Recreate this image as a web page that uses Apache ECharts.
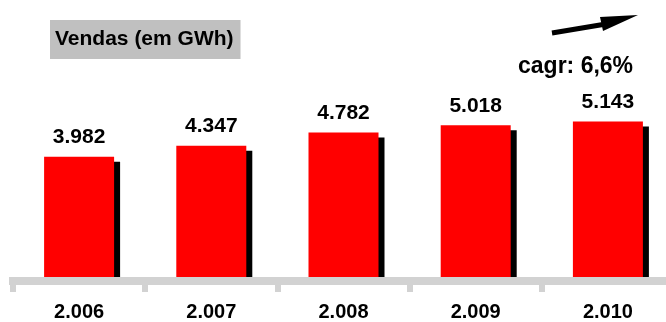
<!DOCTYPE html>
<html>
<head>
<meta charset="utf-8">
<script src="https://cdn.jsdelivr.net/npm/echarts@6/dist/echarts.min.js"></script>
<style>
  html, body { margin: 0; padding: 0; background: #fff; overflow: hidden; }
  #vendas { width: 674px; height: 322px; }
</style>
</head>
<body>
<div id="vendas"></div>
<script>
    // dados
    var anos = ['2.006', '2.007', '2.008', '2.009', '2.010'];
    var vendas = [3982, 4347, 4782, 5018, 5143];
    var rotulos = ['3.982', '4.347', '4.782', '5.018', '5.143'];

    var fonte = '"Liberation Sans", Arial, sans-serif';
    var chart = echarts.init(document.getElementById('vendas'));

    chart.setOption({
        animation: false,
        title: {
            text: 'Vendas (em GWh)',
            left: 50,
            top: 20,
            padding: [8, 7, 8, 5],
            backgroundColor: '#c0c0c0',
            textStyle: {
                fontFamily: fonte,
                fontSize: 21,
                fontWeight: 'bold',
                color: '#000',
                lineHeight: 23
            }
        },
        grid: {
            left: 13,
            right: 0,
            top: 5,
            bottom: 41
        },
        xAxis: {
            type: 'category',
            data: anos,
            z: 3,
            axisLine: {
                onZero: false,
                lineStyle: { color: '#d2d2d2', width: 8, cap: 'square' }
            },
            axisTick: {
                show: true,
                interval: 0,
                length: 11,
                lineStyle: { color: '#d2d2d2', width: 6 }
            },
            axisLabel: {
                margin: 21,
                fontFamily: fonte,
                fontSize: 20,
                fontWeight: 'bold',
                color: '#000'
            }
        },
        yAxis: {
            type: 'value',
            // base das barras fica um pouco acima da faixa do eixo
            min: -132,
            max: 9000,
            show: false,
            splitLine: { show: false }
        },
        series: [
            {
                name: 'Vendas',
                type: 'bar',
                barWidth: 70,
                data: vendas,
                itemStyle: {
                    color: '#ff0000',
                    shadowColor: '#000',
                    shadowBlur: 0,
                    shadowOffsetX: 6,
                    shadowOffsetY: 5
                },
                label: {
                    show: true,
                    position: 'top',
                    distance: 9,
                    formatter: function (p) { return rotulos[p.dataIndex]; },
                    fontFamily: fonte,
                    fontSize: 21,
                    fontWeight: 'bold',
                    color: '#000'
                }
            }
        ],
        graphic: [
            {
                type: 'text',
                left: 518,
                top: 55,
                style: {
                    text: 'cagr: 6,6%',
                    font: 'bold 23px ' + fonte,
                    fill: '#000'
                }
            },
            {
                type: 'line',
                shape: { x1: 552, y1: 33, x2: 606, y2: 24 },
                style: { stroke: '#000', lineWidth: 5 }
            },
            {
                type: 'polygon',
                shape: { points: [[600, 17], [638, 15], [603, 31]] },
                style: { fill: '#000' }
            }
        ]
    });
</script>
</body>
</html>
